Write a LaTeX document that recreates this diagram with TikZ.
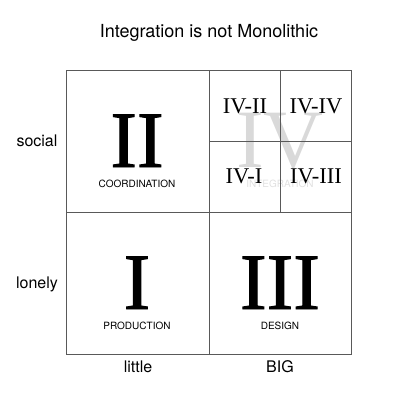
\documentclass[tikz,border=0pt]{standalone}
\usepackage{fontspec}
\setmainfont{Liberation Serif}
\setsansfont{TeX Gyre Heros}
\newfontfamily\heavyserif[FakeBold=1.2]{Liberation Serif}
\begin{document}
\begin{tikzpicture}[x=1pt,y=-1pt,
  cell/.style={draw=black!65,line width=0.7pt},
  sanslbl/.style={font=\sffamily\fontsize{16}{16}\selectfont,anchor=base},
  small/.style={font=\sffamily\fontsize{10}{10}\selectfont,anchor=base},
  bignum/.style={font=\heavyserif\fontsize{80}{80}\selectfont,anchor=base},
  subnum/.style={font=\fontsize{22.5}{22.5}\selectfont,anchor=base}]
\useasboundingbox (0,0) rectangle (400,400);
\node[sanslbl,font=\sffamily\fontsize{18}{18}\selectfont] (title) at (209,37) {Integration is not Monolithic};
% watermark IV
\node[anchor=base,text=black!15,font=\fontsize{83}{83}\selectfont] (iv) at (280,167) {IV};
\node[small,text=black!12] (integ) at (280,187) {INTEGRATION};
% grid
\draw[cell] (66,70) rectangle (351,354);
\draw[cell] (209,70) -- (209,354);
\draw[cell] (66,212) -- (351,212);
\draw[cell] (280,70) -- (280,212);
\draw[cell] (209,141) -- (351,141);
% big numerals
\node[bignum] (ii) at (137,167) {II};
\node[small] (coord) at (137,187) {COORDINATION};
\node[bignum] (i) at (137,309) {I};
\node[small] (prod) at (137,329) {PRODUCTION};
\node[bignum] (iii) at (280,309) {III};
\node[small] (design) at (280,329) {DESIGN};
% sub quadrants
\node[subnum] (ivii) at (245,113) {IV-II};
\node[subnum] (iviv) at (316,113) {IV-IV};
\node[subnum] (ivi) at (244,183) {IV-I};
\node[subnum] (iviii) at (316,183) {IV-III};
% axis labels
\node[sanslbl] (social) at (37,146) {social};
\node[sanslbl] (lonely) at (37,288) {lonely};
\node[sanslbl] (little) at (138,372) {little};
\node[sanslbl] (big) at (280,372) {BIG};
\end{tikzpicture}
\end{document}
